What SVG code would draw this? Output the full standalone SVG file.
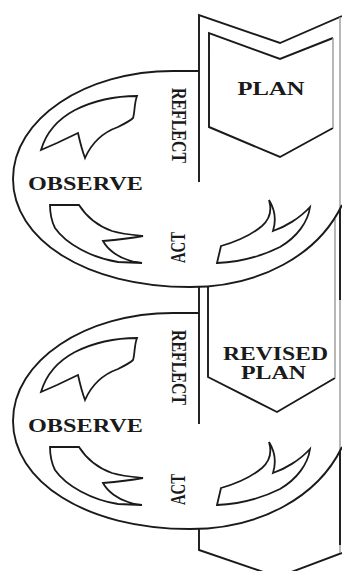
<svg xmlns="http://www.w3.org/2000/svg" xmlns:xlink="http://www.w3.org/1999/xlink" width="342" height="571" viewBox="0 0 342 571">
<style>
.ln{fill:none;stroke:#1a1a1a;stroke-width:1.9;stroke-linejoin:miter}
.lt{fill:none;stroke:#9a9a9a;stroke-width:1.4}
.ar{fill:#fff;stroke:#1a1a1a;stroke-width:1.8;stroke-linejoin:miter}
.tx{font-family:"Liberation Serif","Times New Roman",serif;font-weight:bold;fill:#1a1a1a;font-size:19px}
.vt{font-family:"Liberation Serif","Times New Roman",serif;font-weight:bold;fill:#1a1a1a;font-size:20px}
</style>
<defs>
<path id="arUL" d="M137,96 C118,96 95,100 75,110 C58,119 46,133 41,150 L57,143 L78,133 C80,142 82,150 85,158 C92,142 104,132 118,127 C124,124 130,121 133,118 C135,112 134,104 137,96 Z"/>
<path id="arLL" d="M50,205 L79,205 C86,216 98,226 112,231 C122,234 133,235 143,236 C132,238 115,240 103,241 C108,250 118,257 128,260 C133,262 138,263 142,263 L118,262 C92,258 66,244 55,228 C51,220 50,212 50,205 Z"/>
<path id="arLR" d="M217,263 L221,246 C235,242 250,236 262,226 C270,219 272,210 269,200 C274,208 277,218 273,231 C285,227 300,218 310,207 C308,222 297,237 280,247 C262,256 240,262 217,263 Z"/>
<path id="oval" d="M199,71 C190,71 182,71 173,71 C85,71 13,119 13,179 C13,239 85,287 190,287 C260,287 318,255 342,205"/>
</defs>
<g id="plan">
<polyline class="ln" points="199,182 199,15 280,43 342,16"/>
<polyline class="ln" points="333,38 280,59 209,33 209,127 280,157 333,128"/>
<line class="lt" x1="333" y1="38" x2="333" y2="128"/>
<text class="tx" x="271" y="95" text-anchor="middle" textLength="67" lengthAdjust="spacingAndGlyphs">PLAN</text>
</g>
<g id="revised-plan">
<line class="ln" x1="199" y1="287" x2="199" y2="424"/>
<polyline class="ln" points="208,286 208,377 277,412 335,378"/>
<line class="lt" x1="335" y1="219" x2="335" y2="378"/>
<text class="tx" x="275.5" y="360" text-anchor="middle" textLength="105" lengthAdjust="spacingAndGlyphs">REVISED</text>
<text class="tx" x="273.5" y="379" text-anchor="middle" textLength="65" lengthAdjust="spacingAndGlyphs">PLAN</text>
</g>
<g id="next-plan">
<polyline class="ln" points="199,529 199,550 278,577 342,553"/>
</g>
<g id="band-edge">
<line class="lt" x1="340" y1="17" x2="340" y2="553"/>
<line class="ln" x1="340" y1="209" x2="340" y2="300"/>
<line class="ln" x1="340" y1="451" x2="340" y2="545"/>
</g>
<g id="cycle1">
<use xlink:href="#oval" class="ln"/>
<text class="tx" x="85.5" y="190" text-anchor="middle" textLength="115" lengthAdjust="spacingAndGlyphs">OBSERVE</text>
<text class="vt" transform="translate(172,125.5) rotate(90)" text-anchor="middle" textLength="75" lengthAdjust="spacingAndGlyphs">REFLECT</text>
<text class="vt" transform="translate(185,247.5) rotate(-90)" text-anchor="middle" textLength="31" lengthAdjust="spacingAndGlyphs">ACT</text>
</g>
<g id="cycle2">
<use xlink:href="#oval" class="ln" transform="translate(0,242)"/>
<text class="tx" x="85.5" y="432" text-anchor="middle" textLength="115" lengthAdjust="spacingAndGlyphs">OBSERVE</text>
<text class="vt" transform="translate(172,367.5) rotate(90)" text-anchor="middle" textLength="75" lengthAdjust="spacingAndGlyphs">REFLECT</text>
<text class="vt" transform="translate(185,489.5) rotate(-90)" text-anchor="middle" textLength="31" lengthAdjust="spacingAndGlyphs">ACT</text>
</g>
<g id="connectors">
<use xlink:href="#arUL" class="ar"/>
<use xlink:href="#arLL" class="ar"/>
<use xlink:href="#arLR" class="ar"/>
<use xlink:href="#arUL" class="ar" transform="translate(0,242)"/>
<use xlink:href="#arLL" class="ar" transform="translate(0,242)"/>
<use xlink:href="#arLR" class="ar" transform="translate(0,242)"/>
</g>
</svg>
